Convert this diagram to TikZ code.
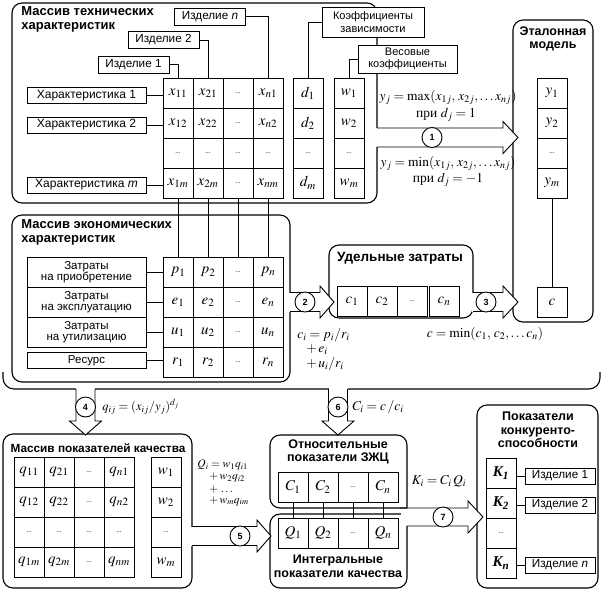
\documentclass[tikz,border=0pt]{standalone}
\usepackage{mathptmx}
\usepackage{fontspec}
\setmainfont{Liberation Serif}
\setsansfont{Liberation Sans}
\usetikzlibrary{calc}
\newcommand\mydots{\mbox{\fontsize{7}{7}\selectfont...}}
\newcommand\pri{\mbox{при}}
\newcommand\blockarrowH[4]{% start x, head base x, tip x, center y
  \fill[white] ({#1-1},{#4-9.5}) rectangle (#2,{#4+9.5});
  \fill[white] (#2,{#4-16}) -- (#3,#4) -- (#2,{#4+16}) -- cycle;
  \draw[line join=miter] (#1,{#4-9.5}) -- (#2,{#4-9.5}) -- (#2,{#4-16}) -- (#3,#4) -- (#2,{#4+16}) -- (#2,{#4+9.5}) -- (#1,{#4+9.5});
}
\newcommand\blockarrowV[4]{% center x, start y, head base y, tip y
  \fill[white] ({#1-9.5},{#2-1}) rectangle ({#1+9.5},#3);
  \fill[white] ({#1-16},#3) -- (#1,#4) -- ({#1+16},#3) -- cycle;
  \draw[line join=miter] ({#1-9.5},#2) -- ({#1-9.5},#3) -- ({#1-16},#3) -- (#1,#4) -- ({#1+16},#3) -- ({#1+9.5},#3) -- ({#1+9.5},#2);
}
\tikzset{
  cell/.style={draw, fill=white, minimum width=30pt, minimum height=30pt, inner sep=0pt, font=\fontsize{15}{16}\selectfont},
  lab/.style={draw, fill=white, inner sep=1pt, align=center, font=\sffamily\fontsize{12}{12.5}\selectfont},
  grp/.style={draw, line width=1.1pt, rounded corners=10pt},
  ttl/.style={align=center, inner sep=0pt, font=\sffamily\bfseries\fontsize{12.5}{13.5}\selectfont},
  num/.style={circle, draw, fill=white, minimum size=20pt, inner sep=0pt, font=\sffamily\bfseries\fontsize{9}{9}\selectfont},
  frm/.style={inner sep=0pt, font=\fontsize{13.5}{14}\selectfont},
  frmb/.style={inner sep=0pt, anchor=west, font=\fontsize{11.5}{12}\selectfont},
}
\begin{document}
\begin{tikzpicture}[x=1pt,y=-1pt,line width=0.9pt]
\useasboundingbox (0,0) rectangle (605,590);

% ---------- group boxes ----------
\draw[grp] (12,3) rectangle (377,203);
\node[ttl, anchor=north west, align=left, font=\sffamily\bfseries\fontsize{13}{14}\selectfont] (ttech) at (21,6) {Массив технических\\характеристик};
\draw[grp] (513,20) rectangle (593,322);
\node[ttl] (tetal) at (553,39) {Эталонная\\модель};
\draw[grp] (12,215) rectangle (290,382);
\node[ttl, anchor=north west, align=left, font=\sffamily\bfseries\fontsize{13}{14}\selectfont] (tecon) at (21,219) {Массив экономических\\характеристик};
\draw[grp] (329,245) rectangle (473,318);
\node[ttl, font=\sffamily\bfseries\fontsize{13.5}{14}\selectfont] (tud) at (400,258) {Удельные затраты};
\draw[line width=1.1pt, rounded corners=11pt] (3,372) -- (3,389) -- (600,389) -- (600,372);
\draw[grp] (3,434) rectangle (192,588);
\node[ttl, font=\sffamily\bfseries\fontsize{11.8}{13}\selectfont] (tkach) at (98,448) {Массив показателей качества};
\draw[line width=1.1pt, rounded corners=10pt] (407,508) -- (407,435) -- (270,435) -- (270,508) -- (407,508);
\node[ttl] (tzhc) at (338,452) {Относительные\\показатели ЗЖЦ};
\draw[line width=1.1pt, rounded corners=10pt] (401,514) -- (270,514) -- (270,588) -- (407,588) -- (407,526);
\node[ttl] (tint) at (338,566) {Интегральные\\показатели качества};
\draw[grp] (477,405) rectangle (598,588);
\node[ttl] (tkon) at (538,430) {Показатели\\конкуренто-\\способности};

% ---------- technical matrix ----------
\foreach \t [count=\k from 0] in {x_{11},x_{21},\mydots,x_{n1},x_{12},x_{22},\mydots,x_{n2},\mydots,\mydots,\mydots,\mydots,x_{1m},x_{2m},\mydots,x_{nm}}{
  \pgfmathtruncatemacro\ci{mod(\k,4)+1}
  \pgfmathtruncatemacro\rj{div(\k,4)+1}
  \node[cell] (t\ci\rj) at ({148+30*\ci},{63+30*\rj}) {$\t$};
}
\foreach \t [count=\j] in {d_1,d_2,\mydots,d_m}
  \node[cell] (d\j) at (308,{63+30*\j}) {$\t$};
\foreach \t [count=\j] in {w_1,w_2,\mydots,w_m}
  \node[cell] (w\j) at (349,{63+30*\j}) {$\t$};
\foreach \t [count=\j] in {y_1,y_2,\mydots,y_m}
  \node[cell] (y\j) at (552,{63+30*\j}) {$\t$};
\node[cell] (cc) at (552,302) {$c$};
\draw (y4.south) -- (cc.north);

\node[lab, minimum width=71pt, minimum height=17pt, font=\sffamily\fontsize{11.7}{12}\selectfont] (iz1) at (133.5,64.5) {Изделие 1};
\node[lab, minimum width=71pt, minimum height=17pt, font=\sffamily\fontsize{11.7}{12}\selectfont] (iz2) at (163.5,40) {Изделие 2};
\node[lab, minimum width=71pt, minimum height=17pt, font=\sffamily\fontsize{11.7}{12}\selectfont] (izn) at (210,16.5) {Изделие \textit{n}};
\draw (iz1.east) -| (t11.north);
\draw (iz2.east) -| (t21.north);
\draw (izn.east) -| (t41.north);

\node[lab, minimum width=119pt, minimum height=16pt] (ch1) at (86.5,95.5) {Характеристика 1};
\node[lab, minimum width=119pt, minimum height=16pt] (ch2) at (86.5,125) {Характеристика 2};
\node[lab, minimum width=119pt, minimum height=16pt] (chm) at (86.5,185) {Характеристика \textit{m}};
\draw (ch1.east) -- (ch1.east -| t11.west);
\draw (ch2.east) -- (ch2.east -| t12.west);
\draw (chm.east) -- (chm.east -| t14.west);

\node[lab, minimum width=102pt, minimum height=30pt, font=\sffamily\fontsize{11}{12.5}\selectfont] (kz) at (373,22) {Коэффициенты\\зависимости};
\node[lab, minimum width=99pt, minimum height=28pt, font=\sffamily\fontsize{11}{12.5}\selectfont] (vk) at (407.5,59) {Весовые\\коэффициенты};
\draw (kz.west) -| (d1.north);
\draw (vk.west) -| (w1.north);

% ---------- economic matrix ----------
\foreach \t [count=\k from 0] in {p_1,p_2,\mydots,p_n,e_1,e_2,\mydots,e_n,u_1,u_2,\mydots,u_n,r_1,r_2,\mydots,r_n}{
  \pgfmathtruncatemacro\ci{mod(\k,4)+1}
  \pgfmathtruncatemacro\rj{div(\k,4)+1}
  \node[cell] (e\ci\rj) at ({148+30*\ci},{242+30*\rj}) {$\t$};
}
\foreach \i in {1,...,4} \draw (t\i4.south) -- (e\i1.north);
\node[lab, minimum width=119pt, minimum height=30pt, font=\sffamily\fontsize{11.5}{11}\selectfont] (ep) at (86.5,272) {Затраты\\на приобретение};
\node[lab, minimum width=119pt, minimum height=30pt, font=\sffamily\fontsize{11.5}{11}\selectfont] (ee) at (86.5,302) {Затраты\\на эксплуатацию};
\node[lab, minimum width=119pt, minimum height=30pt, font=\sffamily\fontsize{11.5}{11}\selectfont] (eu) at (86.5,332) {Затраты\\на утилизацию};
\node[lab, minimum width=119pt, minimum height=16pt, font=\sffamily\fontsize{11.5}{12}\selectfont] (er) at (86.5,360.5) {Ресурс};
\draw (ep.east) -- (ep.east -| e11.west);
\draw (ee.east) -- (ee.east -| e12.west);
\draw (eu.east) -- (eu.east -| e13.west);
\draw (er.east) -- (er.east -| e14.west);

% ---------- unit costs ----------
\node[cell] (c1) at (352,301.5) {$c_1$};
\node[cell] (c2) at (382,301.5) {$c_2$};
\node[cell] (c3) at (412,301.5) {$\mydots$};
\node[cell] (c4) at (444,301.5) {$c_n$};

% ---------- quality matrix ----------
\foreach \t [count=\k from 0] in {q_{11},q_{21},\mydots,q_{n1},q_{12},q_{22},\mydots,q_{n2},\mydots,\mydots,\mydots,\mydots,q_{1m},q_{2m},\mydots,q_{nm}}{
  \pgfmathtruncatemacro\ci{mod(\k,4)+1}
  \pgfmathtruncatemacro\rj{div(\k,4)+1}
  \node[cell] (q\ci\rj) at ({-1+30*\ci},{442+30*\rj}) {$\t$};
}
\foreach \t [count=\j] in {w_1,w_2,\mydots,w_m}
  \node[cell] (qw\j) at (166,{442+30*\j}) {$\t$};

% ---------- C and Q ----------
\foreach \t [count=\i] in {C_1,C_2,\mydots,C_n}
  \node[cell] (C\i) at ({263+30*\i},487) {$\t$};
\foreach \t [count=\i] in {Q_1,Q_2,\mydots,Q_n}
  \node[cell] (Q\i) at ({263+30*\i},533) {$\t$};
\foreach \i in {1,...,4} \draw (C\i.south) -- (Q\i.north);

% ---------- competitiveness ----------
\node[cell, font=\rmfamily\bfseries\itshape\fontsize{15}{16}\selectfont] (K1) at (501,473) {K\textsubscript{1}};
\node[cell, font=\rmfamily\bfseries\itshape\fontsize{15}{16}\selectfont] (K2) at (501,503) {K\textsubscript{2}};
\node[cell] (K3) at (501,533) {$\mydots$};
\node[cell, font=\rmfamily\bfseries\itshape\fontsize{15}{16}\selectfont] (K4) at (501,563) {K\textsubscript{n}};
\node[lab, minimum width=70pt, minimum height=16pt, font=\sffamily\fontsize{11.7}{12}\selectfont] (pk1) at (560,476) {Изделие 1};
\node[lab, minimum width=70pt, minimum height=16pt, font=\sffamily\fontsize{11.7}{12}\selectfont] (pk2) at (560,505) {Изделие 2};
\node[lab, minimum width=70pt, minimum height=16pt, font=\sffamily\fontsize{11.7}{12}\selectfont] (pkn) at (560,565) {Изделие \textit{n}};
\draw (pk1.west -| K1.east) -- (pk1.west);
\draw (pk2.west -| K2.east) -- (pk2.west);
\draw (pkn.west -| K4.east) -- (pkn.west);

% ---------- block arrows ----------
\blockarrowH{377}{503}{518}{137.5}
\node[num] (n1) at (432,137.5) {1};
\blockarrowH{290}{320}{334}{302}
\node[num] (n2) at (305,302) {2};
\blockarrowH{473}{503}{518}{302}
\node[num] (n3) at (486,302) {3};
\blockarrowV{85.5}{389}{421}{435}
\node[num] (n4) at (85.5,407) {4};
\blockarrowV{338}{389}{421}{435}
\node[num] (n6) at (338,407) {6};
\blockarrowH{192}{257}{271}{536}
\node[num] (n5) at (240,536) {5};
% arrow 7
\fill[white] (401,508.5) rectangle (468,525.5);
\fill[white] (468,501) -- (483,517) -- (468,533) -- cycle;
\draw[line join=miter] (400,508) -- (468,508) -- (468,501) -- (483,517) -- (468,533) -- (468,526) -- (407,526);
\node[num] (n7) at (443,517) {7};

% ---------- formulas ----------
\node[frm] (f1a) at (448,97) {$y_j=\max(x_{1j},\,x_{2j},\ldots x_{nj})$};
\node[frm] (f1b) at (446,115) {\pri\ $d_j=1$};
\node[frm] (f1c) at (448,163) {$y_j=\min(x_{1j},\,x_{2j},\ldots x_{nj})$};
\node[frm] (f1d) at (448,180) {\pri\ $d_j=-1$};
\node[frm, anchor=west] (f2a) at (297,335) {$c_i=p_i/r_i$};
\node[frm, anchor=west] (f2b) at (306,350) {$+\,e_i$};
\node[frm, anchor=west] (f2c) at (306,364) {$+\,u_i/r_i$};
\node[frm] (f3) at (485,334) {$c=\min(c_1,\,c_2,\ldots c_n)$};
\node[frm, anchor=west, font=\fontsize{12.5}{13}\selectfont] (f4) at (102,407) {$q_{ij}=(x_{ij}/y_j)^{d_j}$};
\node[frm, anchor=west] (f6) at (352,407) {$C_i=c\,/c_i$};
\node[frmb] (f5a) at (197,465) {$Q_i=w_1q_{i1}$};
\node[frmb] (f5b) at (209,477.5) {$+\,w_2q_{i2}$};
\node[frmb] (f5c) at (209,489.5) {$+\,\ldots$};
\node[frmb] (f5d) at (209,501) {$+\,w_mq_{im}$};
\node[frm] (f7) at (439,481) {$K_i=C_i\,Q_i$};
\end{tikzpicture}
\end{document}
